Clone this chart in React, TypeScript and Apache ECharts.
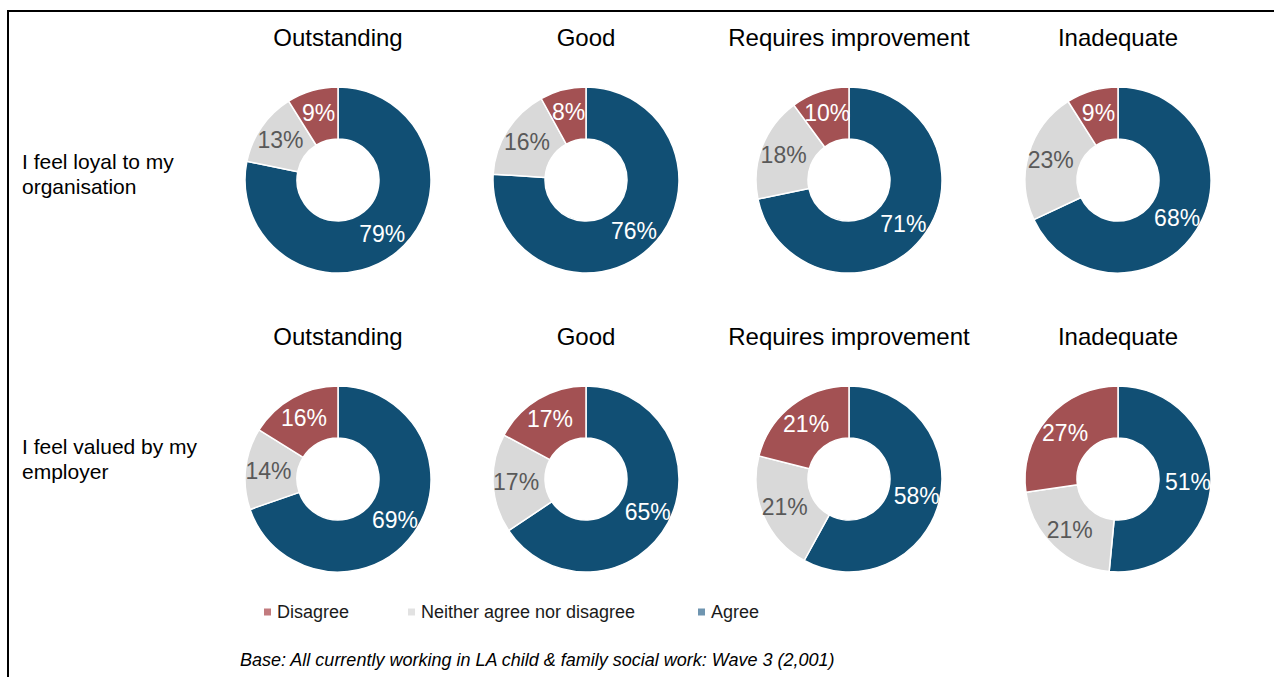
import React, { useEffect, useRef } from "react";
import * as echarts from "echarts";

const columns = ["Outstanding", "Good", "Requires improvement", "Inadequate"];
const rowLabels = ["I feel loyal to my\norganisation", "I feel valued by my\nemployer"];
const categories = ["Agree", "Neither agree nor disagree", "Disagree"];
const loyalAgree = [79, 76, 71, 68];
const loyalNeither = [13, 16, 18, 23];
const loyalDisagree = [9, 8, 10, 9];
const valuedAgree = [69, 65, 58, 51];
const valuedNeither = [14, 17, 21, 21];
const valuedDisagree = [16, 17, 21, 27];
const footnote = "Base: All currently working in LA child & family social work: Wave 3 (2,001)";

const COLORS = ["#114F74", "#D9D9D9", "#A35153"];
const LEGEND_COLORS = ["#6F95B0", "#E2E2E2", "#C27B7E"];
const LABEL_COLORS = ["#FFFFFF", "#595959", "#FFFFFF"];
const FONT = "Liberation Sans, Arial, sans-serif";

const colX = [338, 586, 849, 1118];
const rowY = [180, 479];
const titleY = [20, 319];

export default function App() {
  const ref = useRef<HTMLDivElement>(null);
  useEffect(() => {
    if (!ref.current) return;
    const chart = echarts.init(ref.current, null, { renderer: "svg" });
    const rows = [
      [loyalAgree, loyalNeither, loyalDisagree],
      [valuedAgree, valuedNeither, valuedDisagree],
    ];
    const series: any[] = [];
    const titles: any[] = [];
    rows.forEach((r, ri) => {
      columns.forEach((c, ci) => {
        series.push({
          type: "pie",
          center: [colX[ci], rowY[ri]],
          radius: [41, 93],
          startAngle: 90,
          clockwise: true,
          silent: true,
          itemStyle: { borderColor: "#fff", borderWidth: 1.5 },
          label: {
            show: true,
            position: "inside",
            formatter: "{c}%",
            fontSize: 23,
            fontFamily: FONT,
          },
          labelLine: { show: false },
          data: categories.map((name, k) => ({
            name,
            value: r[k][ci],
            itemStyle: { color: COLORS[k] },
            label: { color: LABEL_COLORS[k] },
          })),
        });
        titles.push({
          text: c,
          left: colX[ci] - 5,
          top: titleY[ri],
          textAlign: "center",
          textStyle: { fontSize: 24, fontWeight: "normal", color: "#000", fontFamily: FONT },
        });
      });
    });
    const legendLefts = [257, 401, 691];
    const legendOrder = [2, 1, 0];
    const legends = legendOrder.map((k, i) => ({
      data: [{ name: categories[k], itemStyle: { color: LEGEND_COLORS[k] } }],
      left: legendLefts[i],
      top: 598,
      icon: "rect",
      itemWidth: 9,
      itemHeight: 9,
      selectedMode: false,
      textStyle: { fontSize: 18, color: "#1a1a1a", fontFamily: FONT },
    }));
    chart.setOption({
      animation: false,
      title: titles,
      legend: legends,
      series,
      graphic: [
        {
          type: "rect",
          shape: { x: 8, y: 11, width: 1400, height: 800 },
          style: { fill: "none", stroke: "#000", lineWidth: 2 },
        },
        ...rowLabels.map((t, i) => ({
          type: "text",
          left: 22,
          top: [149, 434][i],
          style: { text: t, fontSize: 21, fill: "#000", fontFamily: FONT, lineHeight: 25 },
        })),
        {
          type: "text",
          left: 240,
          top: 651,
          style: { text: footnote, fontSize: 18, fontStyle: "italic", fill: "#000", fontFamily: FONT },
        },
      ],
    });
    return () => chart.dispose();
  }, []);
  return (
    <div
      ref={ref}
      style={{ position: "fixed", left: 0, top: 0, width: 1274, height: 677, background: "#fff" }}
    />
  );
}
